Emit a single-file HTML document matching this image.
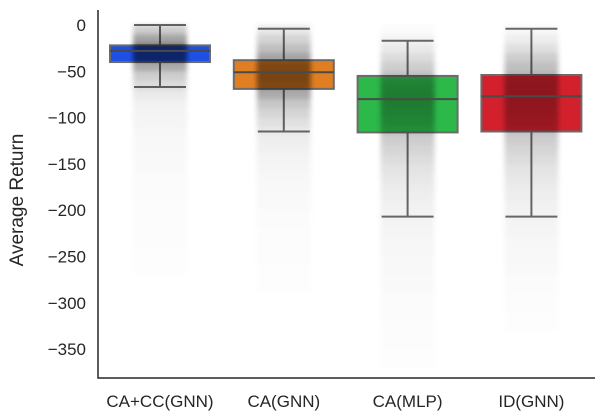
<!DOCTYPE html>
<html><head><meta charset="utf-8">
<style>
body{margin:0;background:#fff;}
svg{display:block;font-family:"Liberation Sans","DejaVu Sans",sans-serif;}
</style></head>
<body>
<svg id="chart" width="603" height="420" viewBox="0 0 603 420">
<defs><filter id="blur" x="-20%" y="-5%" width="140%" height="110%"><feGaussianBlur stdDeviation="2.5"/></filter></defs>
<g id="plot"></g>
</svg>
<script>
const categories = ["CA+CC(GNN)", "CA(GNN)", "CA(MLP)", "ID(GNN)"];
const q1Values = [-40, -69, -116, -115];
const q3Values = [-22, -38, -55, -54];
const medianValues = [-28, -51, -80, -77];
const whiskerLow = [-67, -115, -207, -207];
const whiskerHigh = [0, -4, -17, -4];
const boxColors = ["#1f50e6", "#e07e22", "#2db84a", "#d2202d"];
const yTicks = [0, -50, -100, -150, -200, -250, -300, -350];
// point-cloud density per 10-unit bin, starting at 0 and going down
const density = [
 [0.35,0.65,1,1,0.6,0.35,0.25,0.15,0.1,0.08,0.07,0.06,0.05,0.05,0.04,0.04,0.03,0.03,0.03,0.02,0.02,0.02,0.02,0.02,0.01,0.01,0.01,0,0,0,0,0,0,0,0,0,0],
 [0.15,0.3,0.45,0.65,0.8,0.85,0.8,0.6,0.4,0.3,0.22,0.16,0.12,0.1,0.08,0.07,0.06,0.05,0.04,0.04,0.03,0.03,0.02,0.02,0.02,0.02,0.01,0.01,0.01,0,0,0,0,0,0,0,0],
 [0.03,0.08,0.15,0.25,0.35,0.45,0.55,0.6,0.6,0.55,0.5,0.42,0.35,0.3,0.25,0.2,0.17,0.14,0.12,0.1,0.09,0.08,0.07,0.06,0.06,0.05,0.05,0.04,0.04,0.03,0.03,0.03,0.02,0.02,0.02,0.01,0.01],
 [0.05,0.12,0.22,0.35,0.45,0.55,0.6,0.6,0.58,0.55,0.5,0.42,0.35,0.3,0.25,0.2,0.17,0.14,0.12,0.1,0.09,0.08,0.07,0.06,0.05,0.05,0.04,0.03,0.03,0.02,0.02,0.01,0.01,0,0,0,0]
];
const NS="http://www.w3.org/2000/svg";
const plotG=document.getElementById('plot');
const plotLeft=98, plotRight=595, plotBottom=378, plotTop=10;
const yScale=v=>25+(0-v)*(46.3/50);
const xScale=i=>160+i*123.8;
const boxW=100, capW=52, cloudW=54;
function el(t,a,p){const e=document.createElementNS(NS,t);for(const k in a)e.setAttribute(k,a[k]);(p||plotG).appendChild(e);return e;}

categories.forEach((c,i)=>{
  const cx=xScale(i);
  const grp=el('g',{});
  
  
  const wl=el('line',{x1:cx,x2:cx,y1:yScale(whiskerHigh[i]),y2:yScale(whiskerLow[i]),stroke:'#6b6b6b','stroke-width':2},grp);
  
  
  [whiskerHigh[i],whiskerLow[i]].forEach(v=>{
    const cap=el('line',{x1:cx-capW/2,x2:cx+capW/2,y1:yScale(v),y2:yScale(v),stroke:'#6b6b6b','stroke-width':2},grp);
    
    
  });
  const r=el('rect',{x:cx-boxW/2,y:yScale(q3Values[i]),width:boxW,height:yScale(q1Values[i])-yScale(q3Values[i]),fill:boxColors[i],stroke:'#6b6b6b','stroke-width':2},grp);
  
  
  const cg=el('g',{filter:'url(#blur)'},grp);
  
  
  density[i].forEach((d,b)=>{
    if(d<=0)return;
    const y0=yScale(-b*10), y1=yScale(-(b+1)*10);
    const bin=el('rect',{x:cx-cloudW/2,y:y0,width:cloudW,height:y1-y0,fill:'#000','fill-opacity':(d*0.55).toFixed(3)},cg);
    
    
  });
  const m=el('line',{x1:cx-boxW/2,x2:cx+boxW/2,y1:yScale(medianValues[i]),y2:yScale(medianValues[i]),stroke:'#4a4a4a','stroke-width':2},grp);
  
  
  const t=el('text',{x:cx,y:407,'text-anchor':'middle','font-size':17,fill:'#262626'});
  t.textContent=c;
  
  
});
yTicks.forEach(v=>{
  const t=el('text',{x:86,y:yScale(v)+6,'text-anchor':'end','font-size':17,fill:'#262626'});
  t.textContent=v<0?'\u2212'+(-v):String(v);
  
  
});
const ax=el('path',{d:`M${plotLeft},${plotTop} V${plotBottom} H${plotRight}`,fill:'none',stroke:'#262626','stroke-width':1.5});


const yt=el('text',{x:0,y:0,transform:'translate(23,200) rotate(-90)','text-anchor':'middle','font-size':19,fill:'#262626'});
yt.textContent='Average Return';


</script>
</body></html>
